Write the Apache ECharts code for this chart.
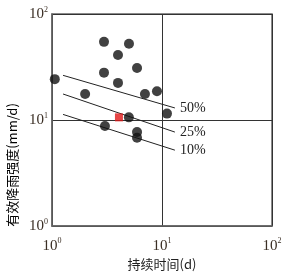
<!DOCTYPE html>
<html><head><meta charset="utf-8">
<script src="https://cdn.jsdelivr.net/npm/echarts@6/dist/echarts.min.js"></script>
<style>html,body{margin:0;padding:0;background:#fff}#c{width:286px;height:276px}</style>
</head><body><div id="c"></div>
<script>
// Data (duration d, effective rainfall intensity mm/d)
const blackPoints = [
  [1.06, 24.3], [2.97, 54.6], [5.01, 52.4], [3.98, 41.1], [5.93, 31.0],
  [2.97, 28.0], [3.98, 22.4], [2.0, 17.6], [7.0, 17.6], [9.0, 18.7],
  [11.1, 11.5], [5.0, 10.6], [3.03, 8.8], [5.93, 7.7], [5.93, 6.8]
];
const redPoints = [[4.06, 10.6]];
const line50 = [[1.26, 26.4], [13.1, 13.0]];
const line25 = [[1.26, 17.6], [13.1, 7.7]];
const line10 = [[1.26, 11.3], [13.1, 5.2]];
const lineNames = ['50%', '25%', '10%'];
const axisMin = 1, axisMax = 100;
const xTitle = '持续时间(d)';

const chart = echarts.init(document.getElementById('c'));
const tickRich = {
  b: {fontFamily: 'Liberation Serif', fontSize: 15, color: '#3a2e24'},
  s: {fontFamily: 'Liberation Serif', fontSize: 8, color: '#3a2e24', verticalAlign: 'top', padding: [0,0,9,0]}
};
function fmt(v){ return '{b|10}{s|' + Math.round(Math.log10(v)) + '}'; }
function trend(data, name){
  return {
    type: 'line', data: data,
    symbol: 'none', lineStyle: {color: '#222', width: 1}, silent: true, z: 2,
    endLabel: {show: true, formatter: name, distance: 5, fontFamily: 'Liberation Serif', fontSize: 14, color: '#222'}
  };
}
chart.setOption({
  animation: false,
  grid: {left: 52, top: 14, width: 220, height: 220, show: true, borderColor: '#666', borderWidth: 1.5, backgroundColor: 'transparent'},
  xAxis: {
    type: 'log', logBase: 10, min: axisMin, max: axisMax,
    axisLine: {show: true, lineStyle: {color: '#666', width: 1.5}},
    axisTick: {show: false},
    splitLine: {show: true, lineStyle: {color: '#333', width: 1}},
    axisLabel: {formatter: fmt, rich: tickRich, margin: 11},
    name: xTitle, nameLocation: 'middle', nameGap: 30,
    nameTextStyle: {fontFamily: 'Noto Sans CJK SC', fontSize: 13, color: '#222'}
  },
  yAxis: {
    type: 'log', logBase: 10, min: axisMin, max: axisMax,
    axisLine: {show: true, lineStyle: {color: '#666', width: 1.5}},
    axisTick: {show: false},
    splitLine: {show: true, lineStyle: {color: '#333', width: 1}},
    axisLabel: {formatter: fmt, rich: tickRich, margin: 4}
  },
  graphic: [{
    type: 'text', x: 12, y: 165, rotation: Math.PI / 2,
    style: {
      text: '{a|有效降}{r|雨}{a|强度(mm/d)}',
      rich: {
        a: {fontFamily: 'Noto Sans CJK SC', fontSize: 13, color: '#333'},
        r: {fontFamily: 'Noto Sans CJK SC', fontSize: 13, color: '#d02020'}
      },
      align: 'center', verticalAlign: 'middle'
    }
  }],
  series: [
    trend(line50, lineNames[0]),
    trend(line25, lineNames[1]),
    trend(line10, lineNames[2]),
    {type: 'scatter', data: blackPoints, symbol: 'circle', symbolSize: 10, itemStyle: {color: '#111'}, z: 3},
    {type: 'scatter', data: redPoints, symbol: 'rect', symbolSize: 8, itemStyle: {color: '#e01818'}, z: 3}
  ]
});
</script></body></html>
